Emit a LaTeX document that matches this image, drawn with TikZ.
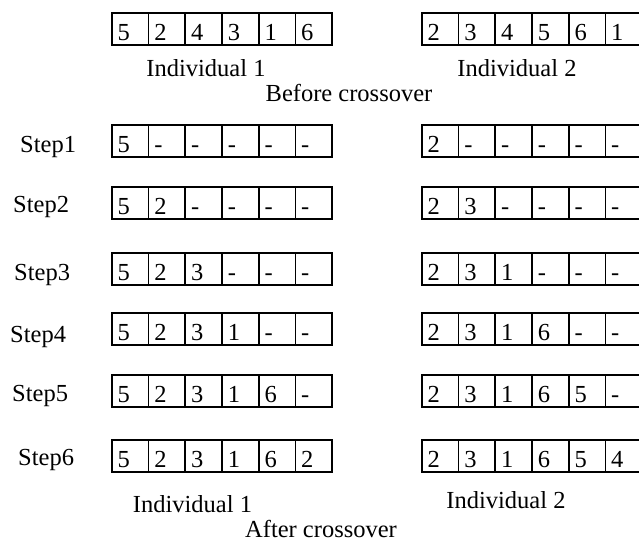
\documentclass[tikz,border=0pt]{standalone}
\usepackage{fontspec}
\setmainfont{Liberation Serif}
\begin{document}
\begin{tikzpicture}[x=1pt,y=-1pt,
  cell/.style={draw, line width=1.7pt, minimum width=36.7pt, minimum height=32pt, inner sep=0pt, anchor=north west},
  val/.style={anchor=base west, inner sep=0pt, font=\fontsize{24.5}{28}\selectfont},
  lab/.style={anchor=base, inner sep=0pt, font=\fontsize{24.5}{28}\selectfont},
  steplab/.style={anchor=base west, inner sep=0pt, font=\fontsize{24.5}{28}\selectfont}]
\useasboundingbox (0,0) rectangle (639,545);
\clip (0,0) rectangle (639,545);
\foreach \r/\t/\lv/\rv in {
  0/12/{5,2,4,3,1,6}/{2,3,4,5,6,1},
  1/124/{5,-,-,-,-,-}/{2,-,-,-,-,-},
  2/186/{5,2,-,-,-,-}/{2,3,-,-,-,-},
  3/252/{5,2,3,-,-,-}/{2,3,1,-,-,-},
  4/312/{5,2,3,1,-,-}/{2,3,1,6,-,-},
  5/374/{5,2,3,1,6,-}/{2,3,1,6,5,-},
  6/439/{5,2,3,1,6,2}/{2,3,1,6,5,4}}{
  \foreach \v [count=\i] in \lv {
    \node[cell] (L\r-\i) at ({111+(\i-1)*36.7},\t) {};
    \node[val] (Lv\r-\i) at ({111+(\i-1)*36.7+6.5},\t+28.5) {\v};
  }
  \foreach \v [count=\i] in \rv {
    \node[cell] (R\r-\i) at ({421+(\i-1)*36.7},\t) {};
    \node[val] (Rv\r-\i) at ({421+(\i-1)*36.7+6.5},\t+28.5) {\v};
  }
}
\node[lab] (ind1a) at (206,77) {Individual 1};
\node[lab] (ind2a) at (517,77) {Individual 2};
\node[lab] (before) at (349,101.5) {Before crossover};
\node[steplab] (s1) at (20,153) {Step1};
\node[steplab] (s2) at (13,213) {Step2};
\node[steplab] (s3) at (14,280) {Step3};
\node[steplab] (s4) at (10,342) {Step4};
\node[steplab] (s5) at (12,401) {Step5};
\node[steplab] (s6) at (18,465) {Step6};
\node[lab] (ind1b) at (192.5,512) {Individual 1};
\node[lab] (ind2b) at (506,508) {Individual 2};
\node[lab] (after) at (321,537) {After crossover};
\end{tikzpicture}
\end{document}
